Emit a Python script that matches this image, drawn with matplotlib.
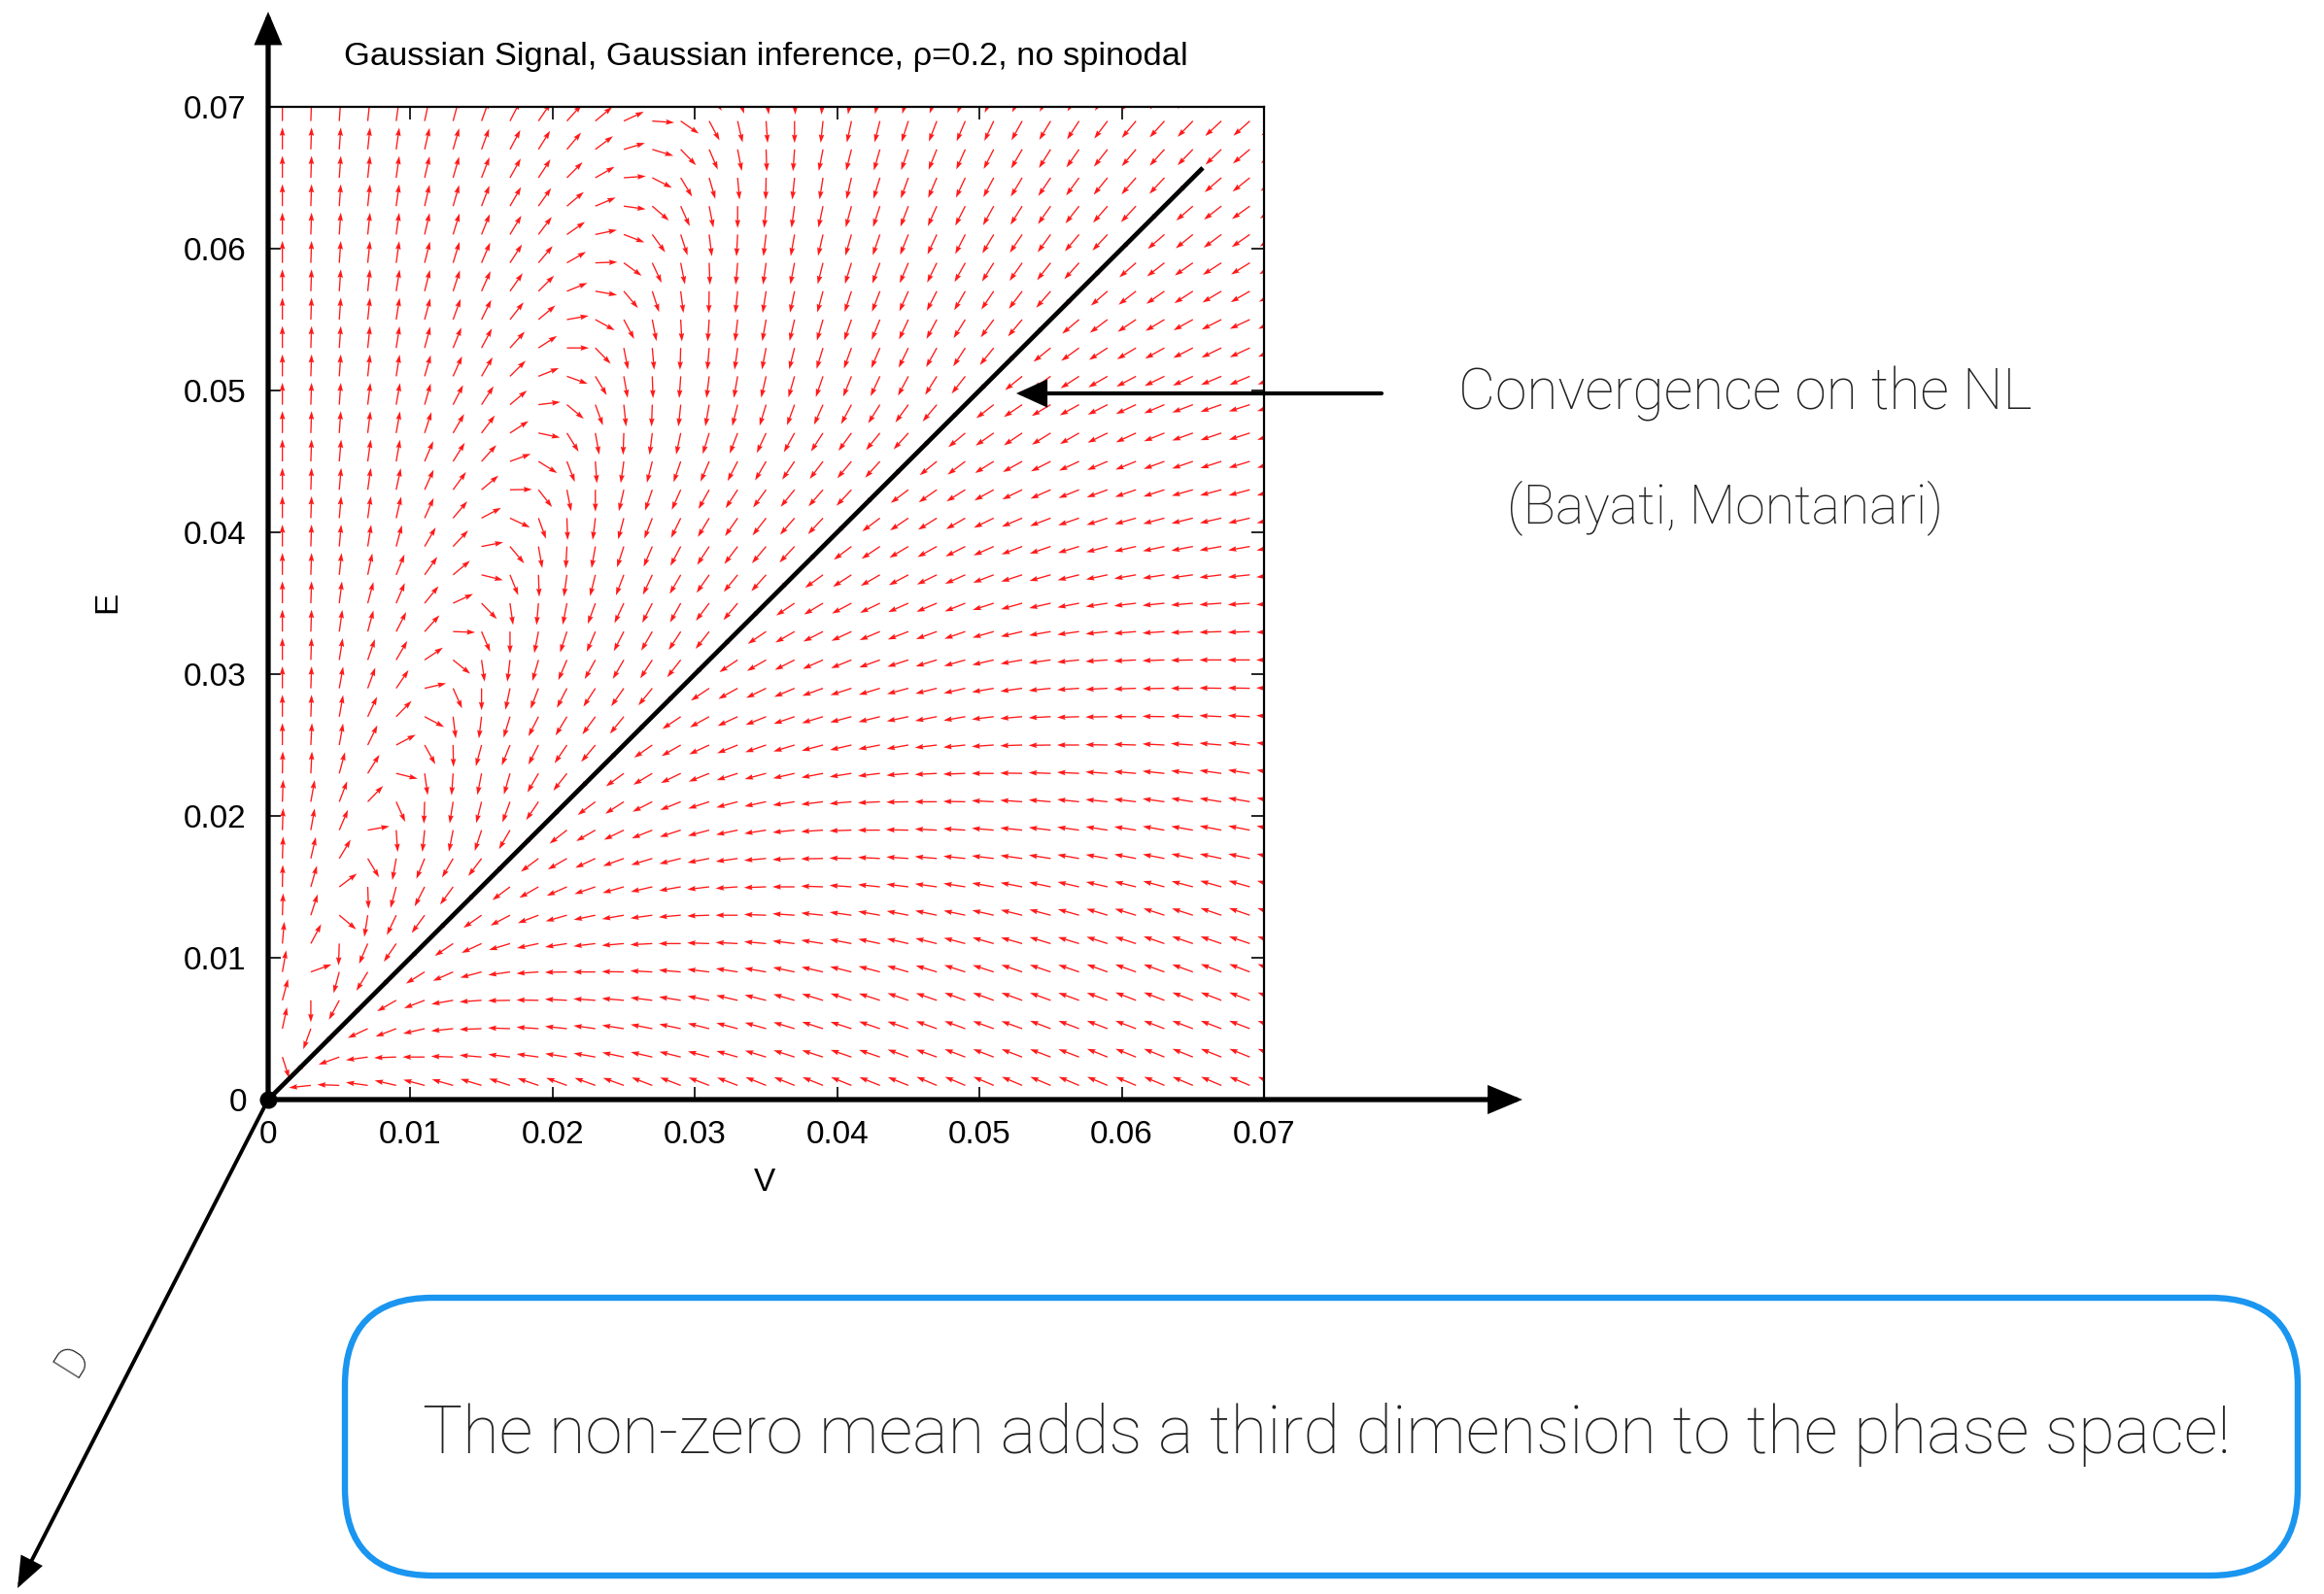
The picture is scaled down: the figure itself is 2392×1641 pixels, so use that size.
import numpy as np
import matplotlib
matplotlib.use("Agg")
import matplotlib.pyplot as plt
from matplotlib.patches import FancyBboxPatch, FancyArrowPatch

# grid of the flow field (V on x, E on y)
grid = 0.001 + 0.002 * np.arange(36)

# arrow direction in degrees, one list per E row (bottom first)
r00 = [225,186,178,172,167,165,164,163,162,161,160,160, 160,159,159,159,159,158,158,158,158,158,158, 157,157,157,157,157,157,157,157,157,157,157,157,157]
r01 = [288,225,200,188,182,180,178,175,173,172,171,170, 168,167,166,165,164,163,162,162,161,161,160, 160,159,159,159,159,159,158,158,158,158,158,158,158]
r02 = [78,250,225,205,201,193,186,182,178,176,174,172, 171,169,168,166,165,164,163,162,162,161,161, 160,160,160,160,159,159,159,159,159,159,159,159,159]
r03 = [75,270,242,225,210,201,190,184,181,179,177,176, 175,173,171,169,167,166,164,163,162,162,161, 161,160,160,160,160,160,160,159,159,159,159,159,159]
r04 = [80,20,255,239,225,212,204,195,188,184,181,180, 179,177,175,173,171,170,168,167,166,165,164, 163,162,162,161,161,161,160,160,160,160,159,159,159]
r05 = [85,62,268,247,236,225,214,205,197,192,189,187, 185,183,180,178,177,175,173,171,169,168,167, 166,165,164,164,163,163,162,162,161,161,161,161,161]
r06 = [88,72,320,261,245,234,225,215,208,201,196,192, 190,188,185,182,180,178,176,174,172,170,169, 168,168,167,166,165,164,163,163,162,162,161,161,161]
r07 = [89,74,37,272,255,243,234,225,217,210,204,199, 196,193,190,187,184,182,180,178,176,174,173, 172,171,170,169,168,167,167,166,165,165,164,164,164]
r08 = [88,77,59,301,260,248,240,233,225,217,210,205, 200,197,194,191,188,185,183,181,179,177,176, 175,174,173,172,171,170,170,169,169,168,168,168,168]
r09 = [88,80,67,10,274,264,259,252,240,225,218,210, 206,202,198,195,192,189,186,184,182,180,179, 177,176,175,174,173,172,171,171,170,170,169,169,169]
r10 = [88,80,69,46,294,268,261,256,250,236,225,217, 213,207,202,198,195,192,189,187,185,183,181, 180,179,177,176,175,174,174,173,172,171,171,170,170]
r11 = [89,87,75,58,346,278,266,259,254,240,232,225, 216,211,206,202,198,195,193,191,189,187,185, 183,182,180,179,178,177,176,175,174,173,172,171,171]
r12 = [90,87,80,64,28,299,271,255,248,243,236,230, 225,215,210,205,202,199,197,195,193,191,190, 187,186,184,182,181,180,179,178,177,176,175,174,174]
r13 = [90,88,80,65,46,332,277,263,253,243,239,234, 231,225,214,209,205,202,199,197,195,194,192, 191,190,187,185,183,182,181,180,179,178,177,177,177]
r14 = [90,88,80,70,56,13,294,270,258,249,243,237, 235,231,225,214,209,206,203,200,198,197,195, 194,193,190,188,186,184,183,182,181,180,179,179,179]
r15 = [90,88,81,71,60,34,321,278,263,254,247,241, 240,237,232,225,214,210,207,204,202,200,198, 197,196,193,190,188,186,184,183,182,181,180,180,180]
r16 = [90,88,82,75,63,48,358,293,270,259,252,247, 243,240,237,232,225,214,210,207,205,203,201, 200,199,196,193,190,188,186,185,184,183,182,182,182]
r17 = [90,88,83,75,67,51,25,314,278,265,259,250, 245,243,241,233,230,225,214,211,208,206,204, 203,202,198,196,193,191,189,187,186,185,184,184,184]
r18 = [90,88,84,78,68,55,40,346,292,272,262,256, 249,245,240,235,231,228,225,216,213,210,208, 206,204,201,198,196,194,192,190,189,188,187,186,186]
r19 = [90,88,85,81,75,60,47,11,310,280,267,260, 252,247,242,237,233,230,227,225,217,214,211, 209,207,204,201,199,197,195,193,192,191,190,190,190]
r20 = [90,88,85,82,77,66,50,28,335,290,272,263, 255,249,244,239,235,232,229,227,225,217,214, 212,210,206,203,201,199,198,196,195,194,193,193,193]
r21 = [90,88,85,82,78,66,54,40,1,308,281,270, 257,251,246,241,237,234,231,229,227,225,217, 215,212,209,206,204,202,200,199,198,196,195,195,195]
r22 = [90,88,85,82,80,67,58,48,20,328,291,274, 262,256,251,247,243,240,236,233,230,228,225, 219,217,212,209,207,205,203,202,200,199,198,197,197]
r23 = [90,88,86,83,80,72,60,53,33,348,302,280, 268,263,258,253,249,245,241,237,234,231,228, 225,220,215,214,212,210,206,205,202,200,199,198,198]
r24 = [90,88,86,83,80,74,63,57,40,7,320,290, 276,268,264,260,256,253,250,246,242,238,234, 230,225,218,214,211,209,207,205,203,201,199,198,197]
r25 = [90,88,86,84,81,74,66,60,45,22,340,301, 280,272,266,263,260,257,254,251,248,245,242, 238,232,225,219,216,213,210,208,206,205,203,203,202]
r26 = [90,88,86,84,81,75,68,62,48,33,0,314, 281,275,268,265,262,259,256,253,250,247,244, 241,237,231,225,219,216,213,211,209,207,206,205,204]
r27 = [90,88,86,84,81,75,70,64,52,40,10,331, 298,281,273,266,263,260,257,254,251,248,245, 242,238,234,230,225,220,217,214,211,209,207,205,205]
r28 = [90,88,86,84,81,76,72,66,55,45,22,350, 310,288,277,269,264,261,258,255,252,249,246, 243,240,236,233,229,225,221,218,215,213,211,210,209]
r29 = [90,88,86,84,82,76,73,67,57,50,30,2, 324,295,281,272,265,262,259,256,253,250,247, 244,241,238,235,232,228,225,221,218,215,213,212,211]
r30 = [90,88,86,84,82,77,73,68,59,53,35,12, 339,306,288,277,267,263,260,257,254,251,248, 245,243,239,236,234,230,227,225,221,219,217,215,213]
r31 = [90,88,86,84,82,77,74,69,60,55,40,23, 352,319,294,281,270,265,262,258,255,252,249, 246,243,241,238,235,232,229,227,225,221,218,216,214]
r32 = [90,88,86,84,82,77,74,69,61,57,45,30, 4,333,301,286,275,269,264,261,257,253,250, 247,245,242,239,236,234,231,229,227,225,221,219,217]
r33 = [90,88,86,84,82,77,74,70,62,58,50,37, 17,343,314,293,281,272,266,259,256,254,251, 248,246,243,240,238,235,232,230,228,226,224,220,219]
r34 = [90,88,86,84,82,78,75,70,63,56,48,40, 25,356,325,298,283,274,270,264,258,256,252, 249,247,245,241,239,237,233,230,228,226,223,222,221]
r35 = [90,88,86,84,82,78,75,71,63,57,50,43, 32,10,335,305,287,277,272,266,261,257,254, 251,249,246,243,240,238,235,232,229,227,225,223,225]

tick_vals = [0, 0.01, 0.02, 0.03, 0.04, 0.05, 0.06, 0.07]
tick_labels = ["0", "0.01", "0.02", "0.03", "0.04", "0.05", "0.06", "0.07"]
nl_end = 0.0657   # end of the drawn Nishimori line E = V

angles = np.array([r00, r01, r02, r03, r04, r05, r06, r07, r08, r09, r10, r11,
                   r12, r13, r14, r15, r16, r17, r18, r19, r20, r21, r22, r23,
                   r24, r25, r26, r27, r28, r29, r30, r31, r32, r33, r34, r35], dtype=float)

W, H = 2392, 1641
fig = plt.figure(figsize=(W / 200, H / 200), dpi=200)
plt.rcParams['font.family'] = ['Liberation Sans', 'DejaVu Sans']

ax = fig.add_axes([276 / W, 1 - 1132 / H, 1025 / W, 1022 / H])
X, Y = np.meshgrid(grid, grid)
L = 0.00155
th = np.deg2rad(angles)
ax.quiver(X, Y, L * np.cos(th), L * np.sin(th), angles='xy', scale_units='xy',
          scale=1, pivot='tail', color='#ff1a1a', width=0.0013, headwidth=4.2,
          headlength=6.5, headaxislength=5.8, zorder=2)
ax.plot([0, nl_end], [0, nl_end], color='black', lw=1.7, solid_capstyle='butt',
        zorder=4, clip_on=False)

ax.set_xlim(0, 0.07)
ax.set_ylim(0, 0.07)
ax.set_xticks(tick_vals)
ax.set_xticklabels(tick_labels)
ax.set_yticks(tick_vals)
ax.set_yticklabels(tick_labels)
ax.tick_params(direction='in', top=True, right=True, length=4.7, width=0.6,
               labelsize=12)
ax.tick_params(axis='y', pad=8)
ax.tick_params(axis='x', pad=7.5)
for s in ['left', 'bottom']:
    ax.spines[s].set_visible(False)
for s in ['top', 'right']:
    ax.spines[s].set_linewidth(0.8)

# overlay in pixel units for the decorations
ov = fig.add_axes([0, 0, 1, 1])
ov.set_xlim(0, W)
ov.set_ylim(H, 0)
ov.axis('off')
ov.patch.set_alpha(0)

ox, oy = 276, 1132


def arrow(x0, y0, x1, y1, lw, hl, hw):
    ov.add_patch(FancyArrowPatch((x0, y0), (x1, y1),
                                 arrowstyle=f'-|>,head_length={hl},head_width={hw}',
                                 mutation_scale=1, lw=lw, color='black',
                                 shrinkA=0, shrinkB=0, joinstyle='miter'))


arrow(ox, oy, ox, 12, 1.9, 9, 3.8)
arrow(ox, oy, 1567, oy, 1.9, 9.5, 4)
arrow(ox, oy, 18, 1635, 1.4, 9, 3.5)
arrow(1422, 405, 1046, 405, 1.5, 9, 4.1)
ov.plot([ox], [oy], 'o', color='black', ms=5.5)

fig.text(788 / W, 1 - 58 / H, "Gaussian Signal, Gaussian inference, \u03c1=0.2, no spinodal",
         ha='center', va='center', fontsize=12.4)
fig.text(787 / W, 1 - 1217 / H, "V", ha='center', va='center', fontsize=12)
fig.text(111 / W, 1 - 620 / H, "E", ha='center', va='center', fontsize=12, rotation=90)

light = dict(family=['Roboto', 'Lato', 'DejaVu Sans'], weight='light', color='#222222')
ov.text(75, 1400, "D", ha='center', va='center', fontsize=16, rotation=58, **light)
ov.text(1501, 405, "Convergence on the NL", ha='left', va='center', fontsize=21.1, **light)
ov.text(1551, 523, "(Bayati, Montanari)", ha='left', va='center', fontsize=20, **light)

ov.add_patch(FancyBboxPatch((355, 1336), 2010, 286,
                            boxstyle='round,pad=0,rounding_size=90',
                            fc='none', ec='#1a95f0', lw=2.3))
ov.text(435, 1477, "The non-zero mean adds a third dimension to the phase space!",
        ha='left', va='center', fontsize=24.75, **light)

fig.savefig("out.png", dpi=200)
